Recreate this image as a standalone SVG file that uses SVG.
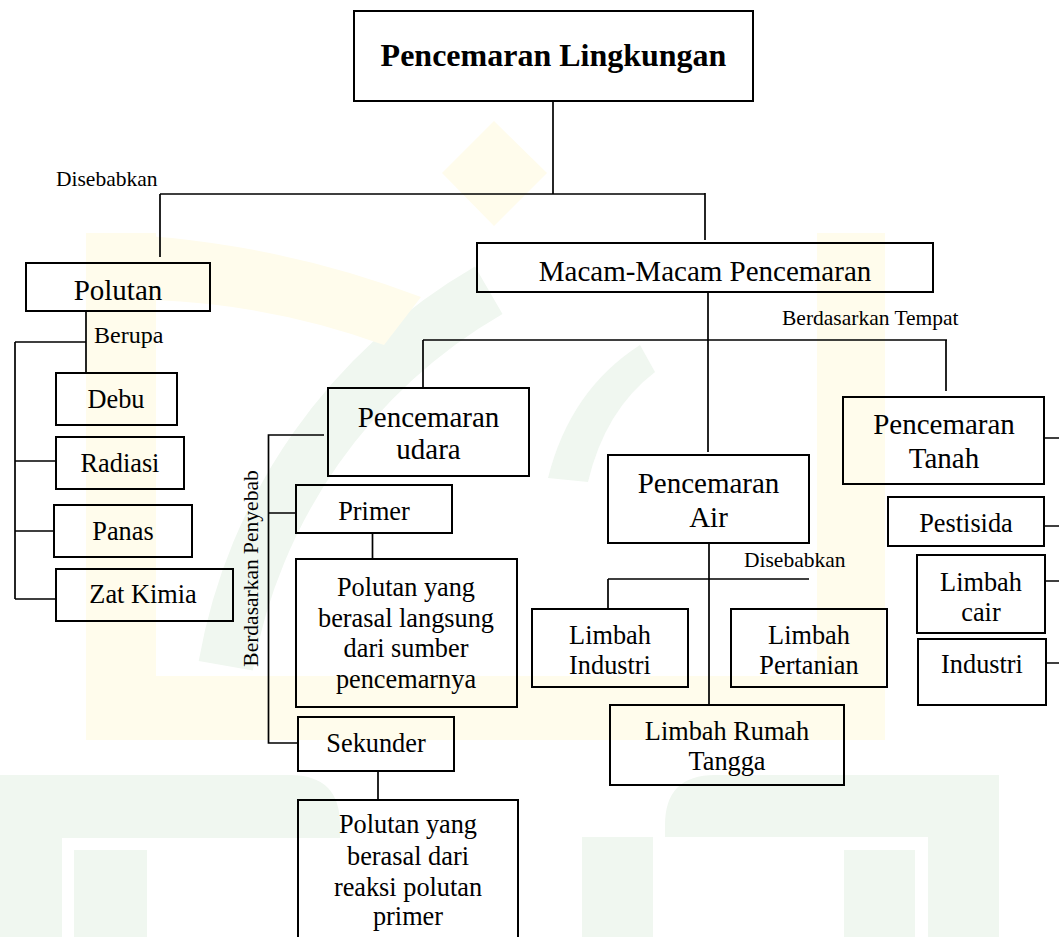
<svg xmlns="http://www.w3.org/2000/svg" width="1059" height="937" viewBox="0 0 1059 937">
<style>
.box{fill:none;stroke:#000;stroke-width:2}
.ln{fill:none;stroke:#000;stroke-width:1.7}
.t{font-family:"Liberation Serif","Times New Roman",serif;fill:#000;text-anchor:middle}
.l1{font-size:32px;font-weight:bold}
.l2{font-size:29px}
.l3{font-size:26.3px}
.lab{font-size:21.5px;text-anchor:start}
.wy{fill:#fffcec}
.wg{fill:#f0f7f0}
</style>
<g id="watermark">
<path class="wg" d="M198.7,661 A570,570 0 0 1 475,266.4 L502.5,314 A515,515 0 0 0 252.8,670.6 Z"/>
<path class="wg" d="M548,478 Q570,390 640,345 L655,372 Q605,410 588,482 Z"/>
<polygon class="wy" points="494,121 547,173 494,226 442,173"/>
<rect class="wy" x="86" y="233" width="70" height="507"/>
<rect class="wy" x="817" y="233" width="68" height="507"/>
<rect class="wy" x="155" y="676" width="662" height="64"/>
<path class="wy" d="M86,233 Q260,236 421,297 L384,345 Q275,305 155,300 Z"/>
<path class="wg" d="M0,775 H290 Q340,775 340,825 V838 H62 V937 H0 Z"/>
<rect class="wg" x="74" y="850" width="73" height="87"/>
<rect class="wg" x="582" y="837" width="71" height="100"/>
<path class="wg" d="M999,775 H715 Q665,775 665,825 V837 H928 V937 H999 Z"/>
<rect class="wg" x="844" y="850" width="71" height="87"/>
</g>
<g id="connectors">
<path class="ln" d="M553,101 V194 M160,194 H705 M160,194 V257 M705,193 V240"/>
<path class="ln" d="M86,311 V373 M15,342 H86 M15,342 V599 M15,461 H56 M15,531 H54 M15,599 H56"/>
<path class="ln" d="M708,292 V452 M423,340 H947 M423,340 V388 M946,340 V391"/>
<path class="ln" d="M324,435 H268.5 V743 H298 M268.5,513 H296 M372.5,533 V559 M378,771 V800"/>
<path class="ln" d="M709,543 V705 M608,579 H809 M608,579 V609"/>
<path class="ln" d="M1044,438 H1059 M1044,526 H1059 M1045,581 H1059 M1046,663 H1059"/>
</g>
<g id="labels">
<text class="t lab" x="56" y="186">Disebabkan</text>
<text class="t lab" x="94" y="343" style="font-size:24px">Berupa</text>
<text class="t lab" x="782" y="325">Berdasarkan Tempat</text>
<text class="t lab" x="744" y="567">Disebabkan</text>
<text class="t" style="font-size:21.5px" transform="translate(258,568.5) rotate(-90)">Berdasarkan Penyebab</text>
</g>
<g id="n-title"><rect class="box" x="354" y="11" width="399" height="90"/><text class="t l1" x="553.5" y="66">Pencemaran Lingkungan</text></g>
<g id="n-polutan"><rect class="box" x="26" y="263" width="184" height="48"/><text class="t l2" x="118" y="300">Polutan</text></g>
<g id="n-macam"><rect class="box" x="477" y="243" width="456" height="49"/><text class="t l2" x="705" y="281">Macam-Macam Pencemaran</text></g>
<g id="n-debu"><rect class="box" x="56" y="373" width="121" height="52"/><text class="t l3" x="116" y="408">Debu</text></g>
<g id="n-radiasi"><rect class="box" x="56" y="437" width="128" height="52"/><text class="t l3" x="120" y="472">Radiasi</text></g>
<g id="n-panas"><rect class="box" x="54" y="505" width="138" height="52"/><text class="t l3" x="123" y="540">Panas</text></g>
<g id="n-zat"><rect class="box" x="56" y="569" width="177" height="52"/><text class="t l3" x="143" y="603">Zat Kimia</text></g>
<g id="n-udara"><rect class="box" x="328" y="388" width="201" height="88"/><text class="t l2" x="428.5" y="427">Pencemaran</text><text class="t l2" x="428.5" y="459">udara</text></g>
<g id="n-primer"><rect class="box" x="296" y="485" width="156" height="48"/><text class="t l3" x="374" y="520">Primer</text></g>
<g id="n-langsung"><rect class="box" x="296" y="559" width="221" height="148"/><text class="t l3" x="406" y="596">Polutan yang</text><text class="t l3" x="406" y="627">berasal langsung</text><text class="t l3" x="406" y="657">dari sumber</text><text class="t l3" x="406" y="688">pencemarnya</text></g>
<g id="n-sekunder"><rect class="box" x="298" y="717" width="156" height="54"/><text class="t l3" x="376" y="752">Sekunder</text></g>
<g id="n-reaksi"><rect class="box" x="298" y="800" width="220" height="150"/><text class="t l3" x="408" y="833">Polutan yang</text><text class="t l3" x="408" y="865">berasal dari</text><text class="t l3" x="408" y="896">reaksi polutan</text><text class="t l3" x="408" y="925">primer</text></g>
<g id="n-air"><rect class="box" x="608" y="455" width="201" height="88"/><text class="t l2" x="708.5" y="493">Pencemaran</text><text class="t l2" x="708.5" y="527">Air</text></g>
<g id="n-lindustri"><rect class="box" x="532" y="609" width="156" height="78"/><text class="t l3" x="610" y="644">Limbah</text><text class="t l3" x="610" y="674">Industri</text></g>
<g id="n-pertanian"><rect class="box" x="731" y="609" width="156" height="78"/><text class="t l3" x="809" y="644">Limbah</text><text class="t l3" x="809" y="674">Pertanian</text></g>
<g id="n-rumah"><rect class="box" x="610" y="705" width="234" height="80"/><text class="t l3" x="727" y="740">Limbah Rumah</text><text class="t l3" x="727" y="770">Tangga</text></g>
<g id="n-tanah"><rect class="box" x="843" y="397" width="201" height="87"/><text class="t l2" x="944" y="434">Pencemaran</text><text class="t l2" x="944" y="468">Tanah</text></g>
<g id="n-pestisida"><rect class="box" x="888" y="497" width="156" height="49"/><text class="t l3" x="966" y="532">Pestisida</text></g>
<g id="n-cair"><rect class="box" x="917" y="555" width="128" height="78"/><text class="t l3" x="981" y="591">Limbah</text><text class="t l3" x="981" y="621">cair</text></g>
<g id="n-industri"><rect class="box" x="918" y="639" width="128" height="66"/><text class="t l3" x="982" y="673">Industri</text></g>
</svg>
